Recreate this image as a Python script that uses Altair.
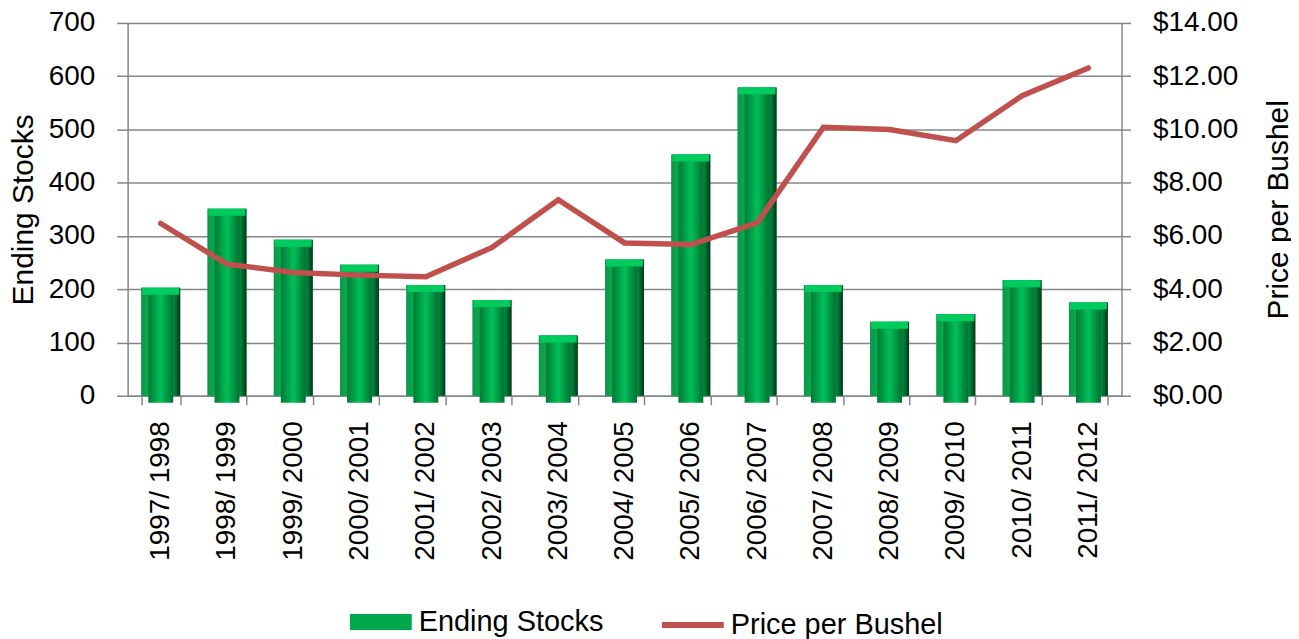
import altair as alt
import pandas as pd

seasons = ["1997/ 1998", "1998/ 1999", "1999/ 2000", "2000/ 2001", "2001/ 2002",
           "2002/ 2003", "2003/ 2004", "2004/ 2005", "2005/ 2006", "2006/ 2007",
           "2007/ 2008", "2008/ 2009", "2009/ 2010", "2010/ 2011", "2011/ 2012"]
stocks = [203, 351, 293, 246, 208, 180, 113, 256, 453, 579, 208, 139, 153, 217, 175]
prices = [6.47, 4.94, 4.63, 4.53, 4.47, 5.57, 7.36, 5.74, 5.68, 6.49, 10.08, 10.00, 9.58, 11.27, 12.31]
left_ticks = [0, 100, 200, 300, 400, 500, 600, 700]
right_ticks = [0, 2, 4, 6, 8, 10, 12, 14]

df = pd.DataFrame({"season": seasons, "stocks": stocks, "price": prices})
df["s1"] = "Ending Stocks"
df["s2"] = "Price per Bushel"

FONT = "Liberation Sans"
GRAY = "#868686"

x_enc = alt.X("season:N", sort=seasons,
              scale=alt.Scale(paddingInner=0.41, paddingOuter=0.205),
              axis=alt.Axis(title=None, labelAngle=270, labelFontSize=28, labelFont=FONT,
                            labelColor="black", tickBand="extent", tickSize=9,
                            tickColor=GRAY, tickWidth=1.5, domainColor=GRAY,
                            domainWidth=1.5, labelPadding=16, grid=False))

left_axis = alt.Axis(values=left_ticks, grid=True, gridColor=GRAY, gridWidth=1.5,
                     tickSize=11, tickColor=GRAY, tickWidth=1.5, domainColor=GRAY,
                     domainWidth=1.5, labelPadding=22, labelFontSize=28, labelFont=FONT,
                     labelColor="black", title="Ending Stocks", titleFontSize=30,
                     titleFont=FONT, titleFontWeight="normal", titleColor="black",
                     titlePadding=10)
y_left = alt.Y("stocks:Q", scale=alt.Scale(domain=[0, 700]), axis=left_axis)

right_axis = alt.Axis(orient="right", values=right_ticks, format="$.2f", grid=False,
                      tickSize=9, tickColor=GRAY, tickWidth=1.5, domainColor=GRAY,
                      domainWidth=1.5, labelPadding=22, labelFontSize=28, labelFont=FONT,
                      labelColor="black", title="Price per Bushel", titleFontSize=30,
                      titleFont=FONT, titleFontWeight="normal", titleColor="black",
                      titleAngle=270, titlePadding=56)
y_right = alt.Y("price:Q", scale=alt.Scale(domain=[0, 14]), axis=right_axis)

base = alt.Chart(df)
BAR_W = 39

legend_bar = base.mark_bar(size=BAR_W).encode(
    x=x_enc, y=y_left,
    fill=alt.Fill("s1:N", scale=alt.Scale(domain=["Ending Stocks"], range=["#00a84c"]),
                  legend=alt.Legend(title=None, orient="none", legendX=223, legendY=570,
                                    labelFontSize=29, labelFont=FONT, labelColor="black",
                                    symbolType="M-1,-0.26H1V0.26H-1Z", symbolSize=3844,
                                    symbolStrokeWidth=0, labelOffset=7, padding=0,
                                    labelLimit=0)))

outer_bar = base.mark_bar(size=BAR_W, color=alt.Gradient(
    gradient="linear", x1=0, y1=0, x2=1, y2=0,
    stops=[alt.GradientStop(offset=0, color="#12934a"),
           alt.GradientStop(offset=0.2, color="#00b052"),
           alt.GradientStop(offset=0.8, color="#009a46"),
           alt.GradientStop(offset=1, color="#003818")])).encode(x=x_enc, y=y_left)

inner_bar = base.mark_bar(size=BAR_W - 14, yOffset=7, y2Offset=-4, color=alt.Gradient(
    gradient="linear", x1=0, y1=0, x2=1, y2=0,
    stops=[alt.GradientStop(offset=0, color="#007a33"),
           alt.GradientStop(offset=0.5, color="#00c05a"),
           alt.GradientStop(offset=1, color="#007030")])).encode(x=x_enc, y=y_left)

cap_bar = base.mark_bar(size=BAR_W - 2, y2Offset=7, color="#00cc5e").encode(
    x=x_enc, y=y_left, y2=alt.Y2("stocks:Q"))

line = base.mark_line(strokeWidth=5.5, strokeCap="round").encode(
    x=x_enc, y=y_right,
    stroke=alt.Stroke("s2:N", scale=alt.Scale(domain=["Price per Bushel"], range=["#c0504d"]),
                      legend=alt.Legend(title=None, orient="none", legendX=533, legendY=570,
                                        labelFontSize=29, labelFont=FONT, labelColor="black",
                                        symbolType="stroke", symbolSize=3844,
                                        symbolStrokeWidth=6, labelOffset=4, padding=0,
                                        labelLimit=0)))

bars = alt.layer(legend_bar, outer_bar, inner_bar, cap_bar)

chart = alt.layer(bars, line).resolve_scale(
    y="independent", fill="independent", stroke="independent"
).properties(
    width=997, height=374,
    autosize=alt.AutoSizeParams(type="none"),
    padding={"left": 120, "top": 14, "right": 170, "bottom": 243},
).configure_view(stroke=None)

chart.save("out.html", embed_options={"renderer": "svg", "actions": False})
